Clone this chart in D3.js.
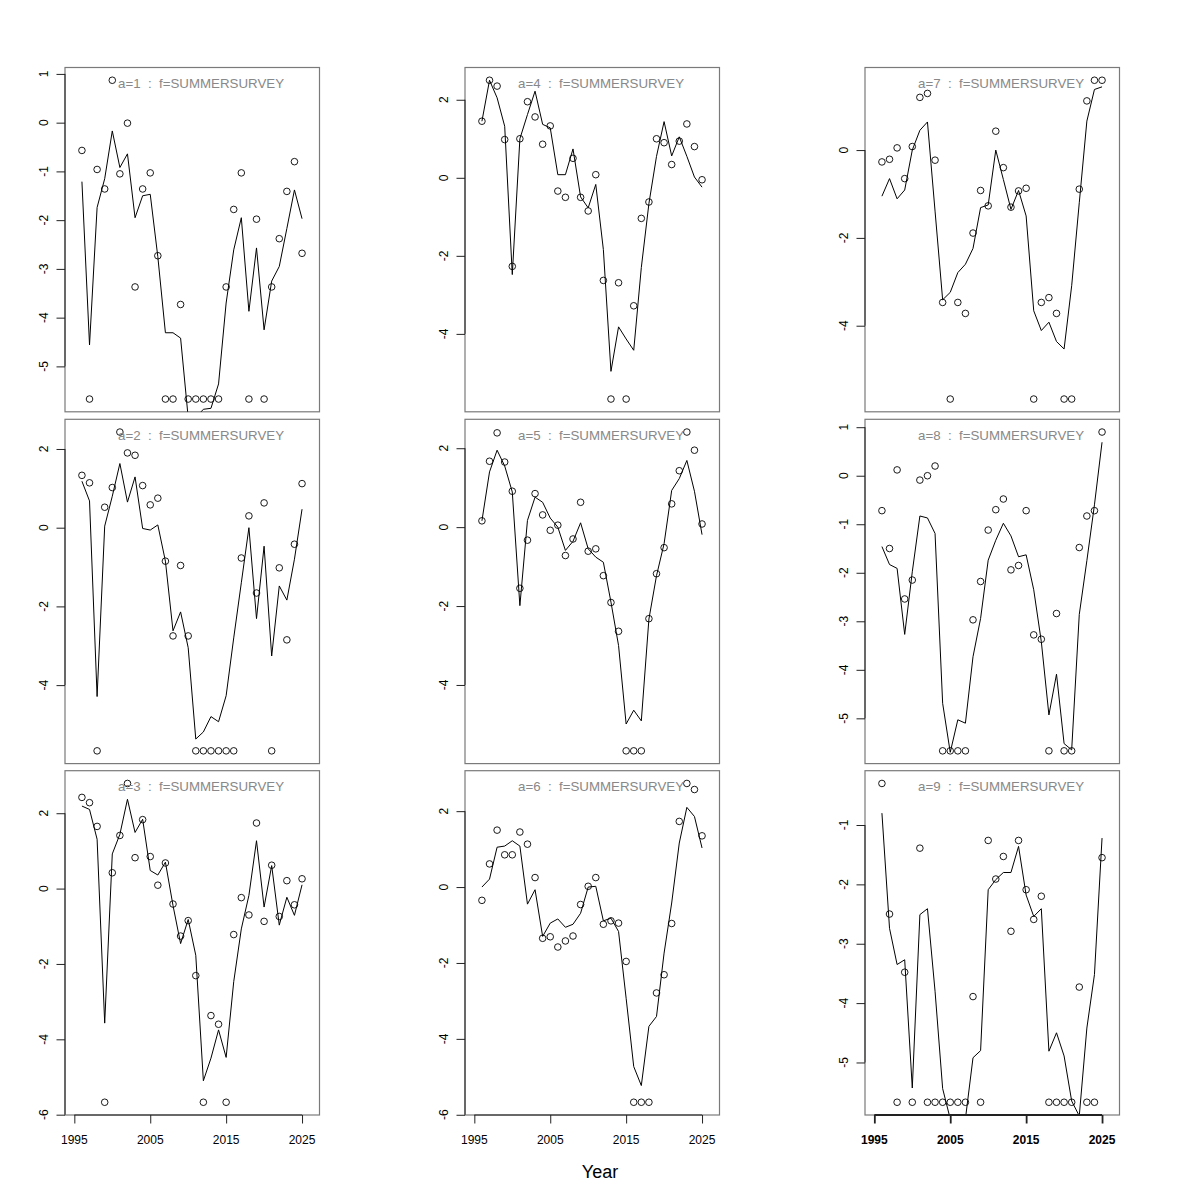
<!DOCTYPE html>
<html>
<head>
<meta charset="utf-8">
<script src="https://cdn.jsdelivr.net/npm/d3@7"></script>
<style>
  body { margin: 0; background: #fff; }
  svg text { font-family: "Liberation Sans", Arial, Helvetica, sans-serif; }
</style>
</head>
<body>
<div id="chart"></div>
<script>
// survey years
const years = [1996, 1997, 1998, 1999, 2000, 2001, 2002, 2003, 2004, 2005,
               2006, 2007, 2008, 2009, 2010, 2011, 2012, 2013, 2014, 2015,
               2016, 2017, 2018, 2019, 2020, 2021, 2022, 2023, 2024, 2025];
const xTicks = [1995, 2005, 2015, 2025];

// observed (points) and fitted (line) log index by age
const obsA1 = [-0.57, -5.67, -0.96, -1.36, 0.87, -1.05, -0.01, -3.37, -1.36, -1.03,
               -2.73, -5.67, -5.67, -3.73, -5.67, -5.67, -5.67, -5.67, -5.67, -3.37,
               -1.78, -1.03, -5.67, -1.98, -5.67, -3.37, -2.38, -1.41, -0.80, -2.68];
const fitA1 = [-1.21, -4.56, -1.74, -1.15, -0.17, -0.92, -0.64, -1.95, -1.50, -1.47,
               -2.75, -4.31, -4.31, -4.42, -6.05, -6.05, -5.88, -5.86, -5.36, -3.70,
               -2.61, -1.95, -3.87, -2.57, -4.25, -3.25, -2.95, -2.17, -1.38, -1.97];

const obsA2 = [1.33, 1.14, -5.67, 0.52, 1.02, 2.43, 1.90, 1.84, 1.07, 0.58,
               0.75, -0.85, -2.75, -0.96, -2.75, -5.67, -5.67, -5.67, -5.67, -5.67,
               -5.67, -0.77, 0.30, -1.66, 0.63, -5.67, -1.02, -2.85, -0.42, 1.12];
const fitA2 = [1.18, 0.68, -4.29, 0.04, 0.80, 1.63, 0.65, 1.29, -0.02, -0.06,
               0.07, -0.85, -2.62, -2.14, -3.05, -5.37, -5.19, -4.80, -4.93, -4.27,
               -2.80, -1.40, 0.00, -2.31, -0.47, -3.26, -1.48, -1.84, -0.80, 0.47];

const obsA3 = [2.42, 2.28, 1.65, -5.67, 0.42, 1.41, 2.79, 0.82, 1.83, 0.85,
               0.09, 0.68, -0.41, -1.26, -0.85, -2.31, -5.67, -3.37, -3.60, -5.67,
               -1.22, -0.24, -0.70, 1.74, -0.87, 0.62, -0.74, 0.21, -0.43, 0.26];
const fitA3 = [2.19, 2.10, 1.31, -3.57, 0.92, 1.44, 2.37, 1.49, 1.84, 0.48,
               0.36, 0.70, -0.45, -1.46, -0.82, -1.77, -5.10, -4.50, -3.75, -4.48,
               -2.47, -1.07, -0.18, 1.27, -0.49, 0.61, -0.97, -0.23, -0.71, 0.10];

const obsA4 = [1.45, 2.50, 2.35, 0.98, -2.27, 1.00, 1.95, 1.56, 0.86, 1.33,
               -0.34, -0.50, 0.50, -0.50, -0.85, 0.08, -2.63, -5.67, -2.69, -5.67,
               -3.28, -1.04, -0.62, 1.00, 0.90, 0.34, 0.94, 1.38, 0.80, -0.05];
const fitA4 = [1.45, 2.50, 2.05, 1.32, -2.48, 1.00, 1.62, 2.22, 1.37, 1.28,
               0.08, 0.08, 0.74, -0.49, -0.77, -0.17, -1.84, -4.96, -3.82, -4.13,
               -4.42, -2.30, -0.66, 0.55, 1.44, 0.56, 1.05, 0.55, 0.02, -0.24];

const obsA5 = [0.16, 1.67, 2.39, 1.65, 0.91, -1.55, -0.33, 0.85, 0.31, -0.08,
               0.05, -0.72, -0.30, 0.63, -0.61, -0.55, -1.23, -1.91, -2.64, -5.67,
               -5.67, -5.67, -2.32, -1.18, -0.52, 0.59, 1.43, 2.41, 1.95, 0.08];
const fitA5 = [0.16, 1.40, 1.95, 1.55, 0.89, -1.99, 0.17, 0.76, 0.63, 0.23,
               0.00, -0.59, -0.36, 0.11, -0.55, -0.76, -0.89, -1.90, -3.00, -4.99,
               -4.64, -4.91, -2.33, -1.23, -0.42, 0.93, 1.23, 1.69, 0.91, -0.19];

const obsA6 = [-0.35, 0.61, 1.50, 0.85, 0.85, 1.45, 1.13, 0.25, -1.35, -1.31,
               -1.58, -1.42, -1.29, -0.46, 0.02, 0.25, -0.98, -0.89, -0.95, -1.96,
               -5.67, -5.67, -5.67, -2.79, -2.31, -0.96, 1.73, 2.73, 2.57, 1.35];
const fitA6 = [0.00, 0.21, 1.05, 1.08, 1.22, 1.08, -0.45, -0.07, -1.30, -0.95,
               -0.84, -1.06, -0.98, -0.69, 0.00, 0.02, -0.89, -0.82, -1.17, -2.93,
               -4.73, -5.23, -3.67, -3.41, -1.74, -0.42, 1.16, 2.10, 1.86, 1.03];

const obsA7 = [-0.27, -0.21, 0.05, -0.65, 0.08, 1.20, 1.29, -0.23, -3.47, -5.67,
               -3.47, -3.72, -1.89, -0.92, -1.27, 0.43, -0.40, -1.30, -0.93, -0.87,
               -5.67, -3.47, -3.36, -3.72, -5.67, -5.67, -0.89, 1.12, 1.59, 1.59];
const fitA7 = [-1.05, -0.65, -1.11, -0.91, 0.00, 0.45, 0.64, -1.39, -3.41, -3.24,
               -2.79, -2.60, -2.24, -1.31, -1.25, 0.00, -0.67, -1.35, -0.92, -1.50,
               -3.66, -4.11, -3.92, -4.36, -4.53, -3.09, -1.20, 0.66, 1.38, 1.44];

const obsA8 = [-0.72, -1.50, 0.12, -2.54, -2.15, -0.09, 0.00, 0.20, -5.67, -5.67,
               -5.67, -5.67, -2.97, -2.18, -1.12, -0.70, -0.48, -1.94, -1.85, -0.72,
               -3.28, -3.37, -5.67, -2.84, -5.67, -5.67, -1.48, -0.83, -0.72, 0.90];
const fitA8 = [-1.46, -1.83, -1.91, -3.27, -1.98, -0.83, -0.87, -1.19, -4.69, -5.70,
               -5.03, -5.10, -3.73, -2.94, -1.74, -1.33, -0.98, -1.24, -1.67, -1.63,
               -2.35, -3.42, -4.93, -4.09, -5.52, -5.65, -2.86, -1.75, -0.60, 0.69];

const obsA9 = [-0.30, -2.50, -5.67, -3.48, -5.67, -1.39, -5.67, -5.67, -5.67, -5.67,
               -5.67, -5.67, -3.89, -5.67, -1.26, -1.91, -1.53, -2.79, -1.26, -2.09,
               -2.59, -2.20, -5.67, -5.67, -5.67, -5.67, -3.73, -5.67, -5.67, -1.55];
const fitA9 = [-0.80, -2.74, -3.35, -3.27, -5.43, -2.51, -2.41, -3.80, -5.44, -5.95,
               -6.30, -5.95, -4.92, -4.80, -2.09, -1.92, -1.80, -1.80, -1.36, -2.18,
               -2.54, -2.41, -4.81, -4.50, -4.89, -5.65, -5.90, -4.42, -3.52, -1.22];

// y tick labels per panel
const yTicksA1 = [-5, -4, -3, -2, -1, 0, 1];
const yTicksA2 = [-4, -2, 0, 2];
const yTicksA3 = [-6, -4, -2, 0, 2];
const yTicksA4 = [-4, -2, 0, 2];
const yTicksA5 = [-4, -2, 0, 2];
const yTicksA6 = [-6, -4, -2, 0, 2];
const yTicksA7 = [-4, -2, 0];
const yTicksA8 = [-5, -4, -3, -2, -1, 0, 1];
const yTicksA9 = [-5, -4, -3, -2, -1];

const fleet = "f=SUMMERSURVEY";
const ages = ["a=1", "a=2", "a=3", "a=4", "a=5", "a=6", "a=7", "a=8", "a=9"];

const panels = [
    {obs: obsA1, fit: fitA1, ticks: yTicksA1},
    {obs: obsA2, fit: fitA2, ticks: yTicksA2},
    {obs: obsA3, fit: fitA3, ticks: yTicksA3},
    {obs: obsA4, fit: fitA4, ticks: yTicksA4},
    {obs: obsA5, fit: fitA5, ticks: yTicksA5},
    {obs: obsA6, fit: fitA6, ticks: yTicksA6},
    {obs: obsA7, fit: fitA7, ticks: yTicksA7},
    {obs: obsA8, fit: fitA8, ticks: yTicksA8},
    {obs: obsA9, fit: fitA9, ticks: yTicksA9}
];

// layout
const colLeft = [65, 465, 865];
const rowTop = [67.5, 419.3, 770.7];
const pw = 254.5, ph = 344.3;
const xDomain = [1993.77, 2027.3];
const tick = 8.5;

const svg = d3.select("#chart").append("svg")
    .attr("width", 1200)
    .attr("height", 1200);

svg.append("rect").attr("width", 1200).attr("height", 1200).attr("fill", "#fff");

panels.forEach((p, i) => {
    const col = Math.floor(i / 3);
    const row = i % 3;
    const g = svg.append("g")
        .attr("transform", `translate(${colLeft[col]},${rowTop[row]})`);

    const x = d3.scaleLinear().domain(xDomain).range([0, pw]);

    // R style ylim: range of observations + 4%
    const ext = d3.extent(p.obs);
    const pad = (ext[1] - ext[0]) * 0.04;
    const y = d3.scaleLinear().domain([ext[0] - pad, ext[1] + pad]).range([ph, 0]);

    g.append("clipPath").attr("id", "clip" + i)
        .append("rect").attr("width", pw).attr("height", ph);

    // frame
    g.append("rect")
        .attr("width", pw)
        .attr("height", ph)
        .attr("fill", "none")
        .attr("stroke", "#7a7a7a")
        .attr("stroke-width", 1.2);

    // observed points
    g.selectAll(".pt")
        .data(p.obs)
        .join("circle")
        .attr("class", "pt")
        .attr("cx", (d, j) => x(years[j]))
        .attr("cy", d => y(d))
        .attr("r", 3.3)
        .attr("fill", "none")
        .attr("stroke", "#000")
        .attr("stroke-width", 0.9);

    // fitted line
    const line = d3.line()
        .x((d, j) => x(years[j]))
        .y(d => y(d));

    g.append("path")
        .datum(p.fit)
        .attr("clip-path", `url(#clip${i})`)
        .attr("d", line)
        .attr("fill", "none")
        .attr("stroke", "#000")
        .attr("stroke-width", 1);

    // y axis
    const ya = g.append("g")
        .call(d3.axisLeft(y).tickValues(p.ticks).tickSize(tick).tickSizeOuter(0).tickFormat(""));
    ya.select(".domain").remove();
    ya.selectAll("line").attr("stroke", "#222");

    g.append("line")
        .attr("x1", 0).attr("x2", 0)
        .attr("y1", y(d3.min(p.ticks)))
        .attr("y2", y(d3.max(p.ticks)))
        .attr("stroke", "#222");

    g.selectAll(".ylab")
        .data(p.ticks)
        .join("text")
        .attr("class", "ylab")
        .attr("transform", d => `translate(-17,${y(d)}) rotate(-90)`)
        .attr("text-anchor", "middle")
        .style("font-size", "12px")
        .attr("fill", "#000")
        .text(d => String(d));

    // x axis only on the bottom row
    if (row === 2) {
        const bold = col === 2;
        const xa = g.append("g")
            .attr("transform", `translate(0,${ph})`)
            .call(d3.axisBottom(x).tickValues(xTicks).tickSize(tick).tickSizeOuter(0).tickFormat(""));
        xa.select(".domain").remove();
        xa.selectAll("line").attr("stroke", "#222").attr("stroke-width", bold ? 1.8 : 1);

        g.append("line")
            .attr("x1", x(xTicks[0]))
            .attr("x2", x(xTicks[xTicks.length - 1]))
            .attr("y1", ph).attr("y2", ph)
            .attr("stroke", "#222")
            .attr("stroke-width", bold ? 1.8 : 1);

        g.selectAll(".xlab")
            .data(xTicks)
            .join("text")
            .attr("class", "xlab")
            .attr("x", d => x(d))
            .attr("y", ph + 29)
            .attr("text-anchor", "middle")
            .style("font-size", "12px")
            .style("font-weight", bold ? "bold" : "normal")
            .attr("fill", "#000")
            .text(d => d);
    }

    // panel label
    g.append("text")
        .attr("x", 136)
        .attr("y", 20.5)
        .attr("text-anchor", "middle")
        .attr("fill", "#888")
        .style("font-size", "13.3px")
        .style("white-space", "pre")
        .text(`${ages[i]}  :  ${fleet}`);
});

// x axis title
svg.append("text")
    .attr("x", 600)
    .attr("y", 1178)
    .attr("text-anchor", "middle")
    .style("font-size", "18px")
    .attr("fill", "#000")
    .text("Year");
</script>
</body>
</html>
